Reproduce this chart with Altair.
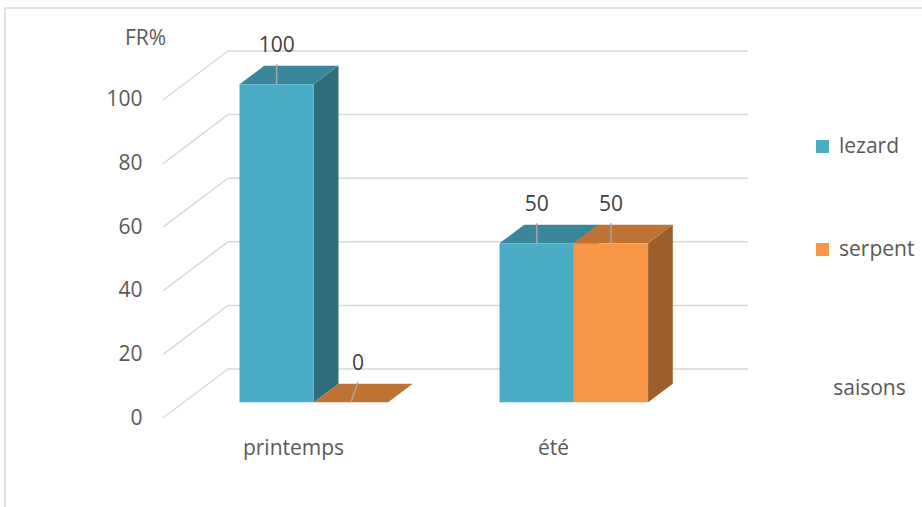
import json
import altair as alt
import pandas as pd

# ---- data -------------------------------------------------------------
categories = ["printemps", "été"]
series = ["lezard", "serpent"]
lezard = [100, 50]
serpent = [0, 50]
y_ticks = [0, 20, 40, 60, 80, 100]

# ---- styling ----------------------------------------------------------
front_colors = ["#4BACC6", "#F79646"]
top_colors = ["#3A879B", "#BE7334"]
side_colors = ["#2F6D7B", "#9C5E2B"]
TEXT = "#595959"
FONT = "Open Sans"
FS = 21

# oblique projection: depth 0 = front edge of floor, depth 1 = back wall
KX = 0.25        # horizontal shift for the full depth (category units)
KY = 15.4        # vertical shift for the full depth (value units)
D0, D1 = 0.32, 0.70          # depth span occupied by the bars
BAR_W = 1 / 3.5              # gap width 150 %
GAP = 0.75 * BAR_W

values = {"lezard": lezard, "serpent": serpent}

fronts, tops, sides, labels, leaders = [], [], [], [], []
for i, cat in enumerate(categories):
    for j, s in enumerate(series):
        v = values[s][i]
        x0 = i + GAP + j * BAR_W
        x1 = x0 + BAR_W
        key = f"{cat}-{s}"
        fronts.append(dict(series=s, x=x0 + KX * D0, x2=x1 + KX * D0,
                           y=v + KY * D0, y2=KY * D0))
        tops.append(dict(key=key, series=s, y=v + KY * D0,
                         x=x0 + KX * D0, x2=x1 + KX * D0))
        tops.append(dict(key=key, series=s, y=v + KY * D1,
                         x=x0 + KX * D1, x2=x1 + KX * D1))
        sides.append(dict(key=key, series=s, x=x1 + KX * D0,
                          y=v + KY * D0, y2=KY * D0))
        sides.append(dict(key=key, series=s, x=x1 + KX * D1,
                          y=v + KY * D1, y2=KY * D1))
        cx = (x0 + x1) / 2 + KX * D0
        lx = cx + (0.027 if v == 0 else 0)
        labels.append(dict(x=lx, y=v + KY * D0 + 12, text=str(v)))
        leaders.append(dict(key=key, x=cx, y=v + KY * D0, o=0))
        leaders.append(dict(key=key, x=lx, y=v + KY * D0 + 6.3, o=1))

grid = []
for t in y_ticks:
    grid += [dict(g=t, x=0, y=t, o=0),
             dict(g=t, x=KX, y=t + KY, o=1),
             dict(g=t, x=len(categories) + KX, y=t + KY, o=2)]

xs = alt.Scale(domain=[0, len(categories) + KX], nice=False, zero=False)
ys = alt.Scale(domain=[0, 100 + KY], nice=False, zero=False)

cat_expr = json.dumps(categories, ensure_ascii=False) + "[floor(datum.value)]"

x_axis = alt.Axis(values=[k + 0.5 for k in range(len(categories))],
                  labelExpr=cat_expr, domain=False, ticks=False, grid=False,
                  labelPadding=30, labelBaseline="middle",
                  labelFont=FONT, labelFontSize=FS, labelColor=TEXT,
                  title="saisons", titleFont=FONT, titleFontSize=FS,
                  titleFontWeight="normal", titleColor=TEXT,
                  titleX=706, titleY=-30, titleAlign="center",
                  titleBaseline="middle")
y_axis = alt.Axis(values=y_ticks, domain=False, ticks=False, grid=False,
                  labelPadding=21, labelFont=FONT, labelFontSize=FS,
                  labelColor=TEXT, labelBaseline="middle",
                  title="FR%", titleAngle=0, titleX=-18, titleY=-13,
                  titleAlign="center", titleBaseline="middle",
                  titleFont=FONT, titleFontSize=FS, titleFontWeight="normal",
                  titleColor=TEXT)

X = lambda f="x:Q": alt.X(f, scale=xs, axis=x_axis)
Y = lambda f="y:Q": alt.Y(f, scale=ys, axis=y_axis)

# chart border
frame = alt.Chart(pd.DataFrame({"a": [0]})).mark_rect(
    fill=None, stroke="#D9D9D9", strokeWidth=1.5
).encode(x=alt.value(-158), x2=alt.value(800),
         y=alt.value(-43), y2=alt.value(500))

gridlines = alt.Chart(pd.DataFrame(grid)).mark_line(
    color="#D9D9D9", strokeWidth=1.5
).encode(x=X(), y=Y(), detail="g:N", order="o:Q")

side_layer = alt.Chart(pd.DataFrame(sides)).mark_area(
    orient="vertical", strokeWidth=0
).encode(
    x=X(), y=Y(), y2="y2:Q", detail="key:N",
    color=alt.Color("series:N", scale=alt.Scale(domain=series, range=side_colors),
                    legend=None),
)

top_layer = alt.Chart(pd.DataFrame(tops)).mark_area(
    orient="horizontal", strokeWidth=0
).encode(
    y=Y(), x=X(), x2="x2:Q", detail="key:N",
    color=alt.Color("series:N", scale=alt.Scale(domain=series, range=top_colors),
                    legend=None),
)

front_layer = alt.Chart(pd.DataFrame(fronts)).mark_rect().encode(
    x=X(), x2="x2:Q", y=Y(), y2="y2:Q",
    color=alt.Color(
        "series:N",
        scale=alt.Scale(domain=series, range=front_colors),
        legend=alt.Legend(title=None, orient="none", legendX=649, legendY=85,
                          symbolType="square", symbolSize=170,
                          symbolStrokeWidth=0, labelFont=FONT,
                          labelFontSize=FS, labelColor=TEXT, labelOffset=6,
                          rowPadding=81),
    ),
)

leader_layer = alt.Chart(pd.DataFrame(leaders)).mark_line(
    color="#A6A6A6", strokeWidth=1.5
).encode(x=X(), y=Y(), detail="key:N", order="o:Q")

label_layer = alt.Chart(pd.DataFrame(labels)).mark_text(
    font=FONT, fontSize=FS, color="#404040", baseline="middle", align="center"
).encode(x=X(), y=Y(), text="text:N")

chart = alt.layer(
    frame, gridlines, side_layer, top_layer, front_layer, leader_layer, label_layer
).resolve_scale(
    color="independent"
).properties(
    width=585, height=367,
    padding={"left": 163, "top": 51, "right": 174, "bottom": 89},
    autosize=alt.AutoSizeParams(type="none"),
    background="white",
).configure_view(stroke=None)

chart.save("out.html", embed_options={"renderer": "svg", "actions": False})
